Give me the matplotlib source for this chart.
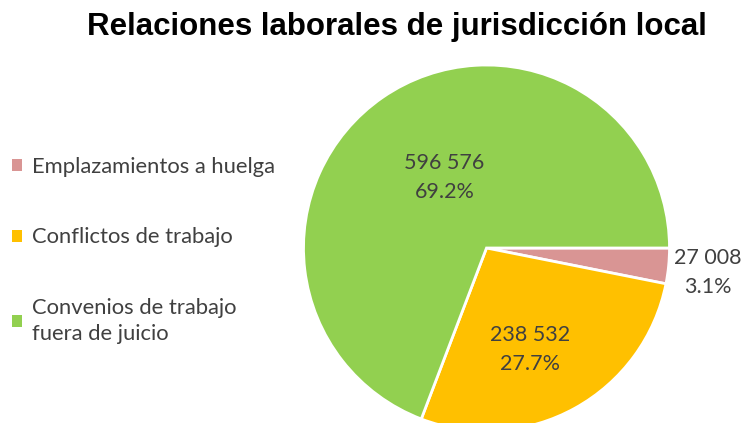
import matplotlib.pyplot as plt
from matplotlib.patches import Patch

categorias = ["Emplazamientos a huelga", "Conflictos de trabajo",
              "Convenios de trabajo\nfuera de juicio"]
valores = [27008, 238532, 596576]
etiquetas = ["27 008\n3.1%", "238 532\n27.7%", "596 576\n69.2%"]
colores = ["#D99594", "#FFC000", "#92D050"]
# label spots in pie units (radius = 1)
pos_etiquetas = [(1.21, -0.135), (0.24, -0.555), (-0.23, 0.385)]

fig = plt.figure(figsize=(7.48, 4.23), dpi=100)
W, H = 748, 423
cx, cy, r = 486.5, 248, 183
ax = fig.add_axes([(cx - r) / W, (H - cy - r) / H, 2 * r / W, 2 * r / H])
ax.pie(valores, colors=colores, startangle=0, counterclock=False,
       wedgeprops=dict(edgecolor="white", linewidth=2), radius=1)
ax.set_xlim(-1, 1)
ax.set_ylim(-1, 1)
ax.set_aspect("equal")
ax.axis("off")

for txt, (x, y) in zip(etiquetas, pos_etiquetas):
    ax.text(x, y, txt, ha="center", va="center", fontsize=15.5,
            family="Lato", color="#404040", linespacing=1.55)

handles = [Patch(facecolor=c, edgecolor="none") for c in colores]
leg = fig.legend(handles, categorias, loc="upper left",
                 bbox_to_anchor=(12 / W, 1 - 157 / H),
                 frameon=False, prop={"family": "Lato", "size": 15.8},
                 labelcolor="#404040", handlelength=0.45, handleheight=0.45,
                 handletextpad=0.45, labelspacing=2.3,
                 borderpad=0, borderaxespad=0)
for t in leg.get_texts():
    t.set_linespacing(1.35)

fig.text(397 / W, 1 - 27 / H, "Relaciones laborales de jurisdicción local",
         ha="center", va="center", fontsize=22.5, fontweight="bold",
         family="Liberation Sans", color="black")

fig.savefig("out.png", dpi=100)
